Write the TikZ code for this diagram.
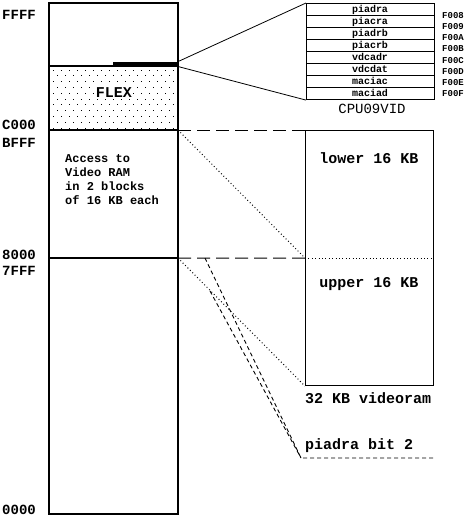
\documentclass[tikz,border=0pt]{standalone}
\usepackage{fontspec}
\newfontfamily\mono{Liberation Mono}
\begin{document}
\begin{tikzpicture}[x=1pt,y=-1pt,
 frame/.style={line width=1.1pt},
 thinline/.style={line width=0.8pt},
 longdash/.style={line width=1pt, dash pattern=on 13pt off 6pt},
 shortdash/.style={line width=0.9pt, dash pattern=on 4pt off 3pt},
 dotline/.style={line width=1pt, dash pattern=on 0.9pt off 2.5pt},
 addrlbl/.style={font=\mono\bfseries\fontsize{14}{15}\selectfont, inner sep=0pt, anchor=west},
 bigtxt/.style={font=\mono\bfseries\fontsize{15}{16}\selectfont, inner sep=0pt},
 acctxt/.style={font=\mono\bfseries\fontsize{12}{14}\selectfont, inner sep=0pt, anchor=base west},
 regtxt/.style={font=\mono\bfseries\fontsize{10}{11}\selectfont, inner sep=0pt, anchor=base},
 flbl/.style={font=\mono\bfseries\fontsize{9}{10}\selectfont, inner sep=0pt, anchor=base west},
]
\useasboundingbox (0,0) rectangle (467,520);
\fill[white] (0,0) rectangle (467,520);

% FLEX dotted fill
\foreach \r in {0,...,10} {
  \pgfmathsetmacro\yy{69.5+5.8*\r}
  \pgfmathsetmacro\xo{mod(\r,2)*4}
  \foreach \c in {0,...,15} {
    \pgfmathsetmacro\xx{53+\xo+8*\c}
    \ifdim\xx pt<176pt \fill (\xx,\yy) rectangle ++(1,1); \fi
  }
}

% memory map box
\coordinate (memTL) at (49,3);
\coordinate (memBR) at (178,514);
\coordinate (flexL) at (49,66);
\coordinate (flexR) at (178,66);
\coordinate (c000L) at (49,130);
\coordinate (c000R) at (178,130);
\coordinate (m8L) at (49,258);
\coordinate (m8R) at (178,258);
\draw[frame] (memTL) rectangle (memBR);
\draw[frame] (flexL) -- (flexR);
\draw[frame] (c000L) -- (c000R);
\draw[frame] (m8L) -- (m8R);

% black bar
\node[fill=black, minimum width=65pt, minimum height=4.5pt, inner sep=0pt, anchor=south east] (bar) at (178,66.5) {};

% register box
\node[draw, frame, minimum width=128pt, minimum height=96pt, inner sep=0pt, anchor=north west] (reg) at (306,3) {};
\foreach \i in {1,...,7} {
  \draw[thinline] (306,3+12*\i) -- (434,3+12*\i);
}
\foreach \i/\t in {0/piadra,1/piacra,2/piadrb,3/piacrb,4/vdcadr,5/vdcdat,6/maciac,7/maciad} {
  \node[regtxt] (reg\i) at (370,3+12*\i+9) {\t};
}
\foreach \i/\t in {0/F008,1/F009,2/F00A,3/F00B,4/F00C,5/F00D,6/F00E,7/F00F} {
  \node[flbl] (adr\i) at (442,18.3+11.2*\i) {\t};
}
\node[font=\mono\fontsize{14}{15}\selectfont, inner sep=0pt, anchor=base] (cpu) at (372,113) {CPU09VID};

\draw[thinline] (bar.north east) -- (reg.north west);
\draw[thinline] (bar.south east) -- (reg.south west);

% video ram box
\node[draw, frame, minimum width=128pt, minimum height=255pt, inner sep=0pt, anchor=north west] (vram) at (305,130) {};
\draw[dotline] (vram.west) -- (vram.east);
\draw[longdash] (c000R) -- (vram.north west);
\draw[longdash] (m8R) -- (vram.west);
\draw[dotline] (c000R) -- (vram.west);
\draw[dotline] (m8R) -- (vram.south west);

% piadra bit lines
\coordinate (pA) at (205,258);
\coordinate (pB) at (210,291);
\coordinate (pC) at (301,458);
\coordinate (pD) at (433,458);
\draw[shortdash] (pA) -- (pC) -- (pD);
\draw[shortdash] (pB) -- (pC);

% address labels
\node[addrlbl] (lFFFF) at (2,14.5) {FFFF};
\node[addrlbl] (lC000) at (2,124.5) {C000};
\node[addrlbl] (lBFFF) at (2,143) {BFFF};
\node[addrlbl] (l8000) at (2,254.5) {8000};
\node[addrlbl] (l7FFF) at (2,271) {7FFF};
\node[addrlbl] (l0000) at (2,509.5) {0000};

% texts
\node[bigtxt, anchor=base, fill=white, inner sep=1pt] (flex) at (114,97) {FLEX};
\node[acctxt] (acc1) at (65,162) {Access to};
\node[acctxt] (acc2) at (65,176) {Video RAM};
\node[acctxt] (acc3) at (65,190) {in 2 blocks};
\node[acctxt] (acc4) at (65,204) {of 16 KB each};
\node[bigtxt, anchor=base] (lower) at (369,163) {lower 16 KB};
\node[bigtxt, anchor=base] (upper) at (369,287) {upper 16 KB};
\node[bigtxt, anchor=base west] (vsize) at (305,403) {32 KB videoram};
\node[bigtxt, anchor=base west] (pbit) at (305,449) {piadra bit 2};
\end{tikzpicture}
\end{document}
